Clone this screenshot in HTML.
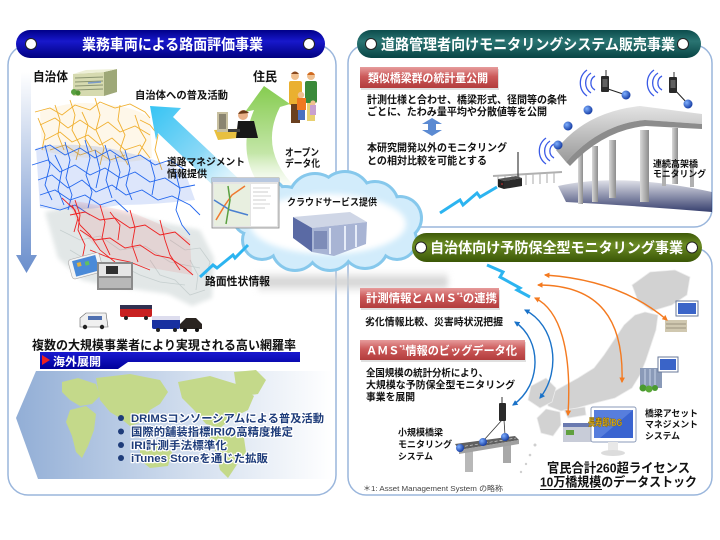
<!DOCTYPE html>
<html><head><meta charset="utf-8"><style>
html,body{margin:0;padding:0;background:#fff;width:720px;height:540px;overflow:hidden}
svg{display:block}
text{font-family:"Liberation Sans","Noto Sans CJK JP",sans-serif;font-weight:bold}
</style></head><body>
<svg width="720" height="540" viewBox="0 0 720 540" xmlns="http://www.w3.org/2000/svg">
<defs>
<linearGradient id="hBlue" x1="0" y1="0" x2="0" y2="1"><stop offset="0" stop-color="#000088"/><stop offset="0.4" stop-color="#1818cc"/><stop offset="1" stop-color="#000080"/></linearGradient>
<linearGradient id="hTeal" x1="0" y1="0" x2="0" y2="1"><stop offset="0" stop-color="#0c4c4c"/><stop offset="0.4" stop-color="#2a7472"/><stop offset="1" stop-color="#084444"/></linearGradient>
<linearGradient id="hOlive" x1="0" y1="0" x2="0" y2="1"><stop offset="0" stop-color="#3e5a08"/><stop offset="0.4" stop-color="#6a8a24"/><stop offset="1" stop-color="#3a5606"/></linearGradient>
<linearGradient id="red" x1="0" y1="0" x2="0" y2="1"><stop offset="0" stop-color="#e69c9c"/><stop offset="0.45" stop-color="#cc5a5a"/><stop offset="1" stop-color="#b23c3c"/></linearGradient>
<linearGradient id="vArrow" x1="0" y1="0" x2="0" y2="1"><stop offset="0" stop-color="#ffffff"/><stop offset="1" stop-color="#6a8ecc"/></linearGradient>
<linearGradient id="bArrow" x1="0" y1="0" x2="1" y2="1"><stop offset="0" stop-color="#36c4f4"/><stop offset="0.45" stop-color="#8ad8f6"/><stop offset="1" stop-color="#ffffff" stop-opacity="0"/></linearGradient>
<linearGradient id="gArrow" x1="0" y1="0" x2="0" y2="1"><stop offset="0" stop-color="#86cc50"/><stop offset="0.6" stop-color="#c4e6a8"/><stop offset="1" stop-color="#ffffff" stop-opacity="0"/></linearGradient>
<linearGradient id="world" x1="0" y1="0" x2="1" y2="0"><stop offset="0" stop-color="#92aed6"/><stop offset="0.55" stop-color="#d2deee"/><stop offset="1" stop-color="#ffffff"/></linearGradient>
<linearGradient id="kaigai" x1="0" y1="0" x2="0" y2="1"><stop offset="0" stop-color="#1a1ad0"/><stop offset="1" stop-color="#00009a"/></linearGradient>
<linearGradient id="deck" x1="0" y1="0" x2="0" y2="1"><stop offset="0" stop-color="#e4e4e4"/><stop offset="1" stop-color="#9a9a9a"/></linearGradient>
<linearGradient id="pillar" x1="0" y1="0" x2="1" y2="0"><stop offset="0" stop-color="#d8d8d8"/><stop offset="1" stop-color="#8c8c8c"/></linearGradient>
<linearGradient id="shadowG" x1="0" y1="0" x2="0" y2="1"><stop offset="0" stop-color="#2c3566" stop-opacity="0.15"/><stop offset="1" stop-color="#2c3566" stop-opacity="0.95"/></linearGradient>
<radialGradient id="ball" cx="0.35" cy="0.35" r="0.7"><stop offset="0" stop-color="#7fb0ff"/><stop offset="1" stop-color="#1238a0"/></radialGradient>
<linearGradient id="greyband" x1="0" y1="0" x2="0" y2="1"><stop offset="0" stop-color="#d8d8d8" stop-opacity="0"/><stop offset="0.5" stop-color="#cfcfcf"/><stop offset="1" stop-color="#d8d8d8" stop-opacity="0"/></linearGradient>
<filter id="blur3"><feGaussianBlur stdDeviation="3"/></filter>
<filter id="blur2"><feGaussianBlur stdDeviation="2"/></filter>
<marker id="mo" viewBox="0 0 10 10" refX="8" refY="5" markerWidth="4" markerHeight="4" orient="auto-start-reverse"><path d="M0,0 L10,5 L0,10 Z" fill="#f47a20"/></marker>
<marker id="mb" viewBox="0 0 10 10" refX="8" refY="5" markerWidth="4" markerHeight="4" orient="auto-start-reverse"><path d="M0,0 L10,5 L0,10 Z" fill="#1a72c8"/></marker>
</defs>

<!-- PANELS -->
<rect x="8" y="45" width="328" height="450" rx="20" fill="#fff" stroke="#9ab6dc" stroke-width="1.5"/>
<rect x="348" y="45" width="364" height="182" rx="18" fill="#fff" stroke="#9ab6dc" stroke-width="1.5"/>
<rect x="348" y="248" width="364" height="247" rx="18" fill="#fff" stroke="#9ab6dc" stroke-width="1.5"/>

<!-- ============ LEFT PANEL ============ -->
<path d="M21,72 L31,72 L31,255 L37,255 L26.5,273 L16,255 L21,255 Z" fill="url(#vArrow)"/>

<!-- map gray land -->
<path d="M45,212 L80,204 L120,212 L160,222 L200,230 L214,258 L212,298 L192,306 L168,294 L140,290 L110,286 L82,280 L58,258 Z" fill="#e2e7e7" filter="url(#blur2)"/>
<g fill="none" stroke="#c6cfcf" stroke-width="0.8">
<path d="M60,230 L80,240 L100,236 L120,250 L145,246 L170,262 L200,268"/>
<path d="M150,260 L160,275 L175,280 L190,295 L205,290"/>
<path d="M120,265 L140,275 L160,282 L185,285"/>
<path d="M170,240 L185,250 L200,248 L210,262 L205,280"/>
<path d="M70,250 L90,262 L110,270 L125,282"/>
<path d="M190,260 L198,275 L196,290"/>
</g>
<!-- orange routes -->
<path d="M40,112 Q70,100 100,104 Q135,106 150,118 L152,158 Q120,166 90,158 Q60,156 42,150 Z" fill="#f5c86a" opacity="0.15"/>
<g fill="none" stroke="#f0b030" stroke-width="0.9">
<path d="M35,112 L50,108 L62,115 L75,105 L90,110 L100,102 L115,108 L130,104 L145,112 L150,118"/>
<path d="M40,125 L55,118 L68,128 L80,120 L95,130 L108,122 L120,132 L135,126 L150,135"/>
<path d="M45,140 L60,132 L72,142 L88,135 L100,145 L112,138 L125,150 L140,145 L150,158"/>
<path d="M70,100 L75,115 L72,130 L80,145 L76,160"/>
<path d="M95,98 L100,115 L96,130 L104,148 L100,165"/>
<path d="M120,105 L118,120 L125,135 L120,150 L128,165"/>
<path d="M50,150 L65,145 L80,155 L95,150 L110,160 L125,155"/>
<path d="M38,118 L45,135 L42,150"/>
<path d="M135,115 L140,130 L146,140 L138,155"/>
<path d="M55,105 L60,120 L58,135 L64,150"/>
<path d="M82,112 L88,125 L85,138 L92,150"/>
<path d="M140,120 L150,125 L158,135 L155,150 L162,170"/>
</g>
<!-- blue routes -->
<path d="M36,148 Q80,140 125,152 Q160,160 185,172 L195,200 Q150,205 120,205 Q80,212 40,208 Z" fill="#2a66e8" opacity="0.16"/>
<g fill="none" stroke="#2266ee" stroke-width="0.9">
<path d="M35,150 L50,145 L65,155 L80,148 L95,158 L110,150 L125,160 L140,155 L155,165 L170,160 L185,170"/>
<path d="M32,165 L48,160 L60,172 L75,165 L90,175 L105,168 L120,178 L135,172 L150,182 L165,178 L180,188 L195,185"/>
<path d="M38,180 L52,175 L68,188 L82,180 L96,192 L112,185 L126,195 L142,190 L158,200 L172,196 L190,205 L200,215"/>
<path d="M40,195 L55,190 L70,200 L85,195 L100,205 L115,200 L128,212"/>
<path d="M45,145 L50,165 L45,185 L52,200"/>
<path d="M65,142 L70,160 L66,178 L72,195 L68,210"/>
<path d="M85,140 L90,158 L86,175 L92,192 L88,208"/>
<path d="M105,145 L110,162 L106,180 L112,198"/>
<path d="M125,150 L130,168 L126,185 L132,200"/>
<path d="M150,160 L155,178 L152,195"/>
<path d="M175,170 L180,190 L176,210 L182,225 L190,235"/>
<path d="M40,205 L60,210 L75,205 L90,215"/>
<path d="M55,155 L62,170 L58,190 L64,205"/>
<path d="M95,150 L100,170 L96,188"/>
<path d="M115,155 L120,172 L116,190"/>
</g>
<!-- red routes -->
<path d="M68,200 Q100,205 130,212 Q165,225 190,240 L192,275 Q150,268 120,262 Q95,248 80,230 Z" fill="#ee3030" opacity="0.1"/>
<g fill="none" stroke="#ee2222" stroke-width="0.9">
<path d="M62,198 L75,210 L80,225 L90,235 L100,250 L115,262"/>
<path d="M70,215 L85,212 L100,220 L115,218 L130,228 L145,225 L160,235 L175,232 L190,245"/>
<path d="M80,230 L95,240 L110,238 L125,248 L140,245 L155,255 L170,258 L185,268 L193,275"/>
<path d="M75,200 L80,215 L78,230 L85,245 L82,260"/>
<path d="M100,205 L105,222 L102,238 L110,255"/>
<path d="M130,210 L135,228 L132,245 L138,262"/>
<path d="M160,220 L165,240 L170,255 L180,270"/>
<path d="M90,250 L110,258 L130,262 L150,270"/>
<path d="M72,205 L78,218 L74,232"/>
<path d="M110,212 L120,225 L118,240"/>
</g>

<!-- big light blue arrow -->
<path d="M150,106 L181,108 L173,117 L258,197 L242,213 L158,133 L156,140 Z" fill="url(#bArrow)"/>

<!-- green curved arrow -->
<path d="M296,188 Q258,150 280,107 L290,104 L264,86 L245,112 L254,110 Q233,160 270,198 Z" fill="url(#gArrow)"/>

<!-- building icon -->
<g>
<polygon points="73,74 104,72 104,96 73,96" fill="#d6dab0"/>
<polygon points="104,72 117,69 117,92 104,96" fill="#9ea878"/>
<polygon points="73,74 104,72 117,69 86,70" fill="#eef0d8"/>
<g stroke="#8a9470" stroke-width="1"><line x1="75" y1="78" x2="103" y2="77"/><line x1="75" y1="82" x2="103" y2="81"/><line x1="75" y1="86" x2="103" y2="85"/><line x1="75" y1="90" x2="103" y2="89"/></g>
<line x1="88" y1="83" x2="101" y2="82" stroke="#7a9ac8" stroke-width="1.5"/>
<circle cx="74" cy="92" r="3" fill="#5aa040"/><circle cx="78" cy="93" r="2.5" fill="#4a9030"/>
</g>

<!-- people -->
<g>
<circle cx="295" cy="76" r="4" fill="#f0c090"/><path d="M291,74 Q295,69 299,74 Z" fill="#8a4a20"/>
<rect x="289" y="81" width="13" height="24" rx="2" fill="#eab030"/>
<rect x="291" y="104" width="9" height="19" fill="#6a4020"/>
<circle cx="311" cy="76" r="4" fill="#f0c090"/><path d="M307,75 Q311,69 315,75 Z" fill="#d06a20"/>
<rect x="305" y="81" width="12" height="22" rx="2" fill="#3a8a3a"/>
<rect x="307" y="103" width="8" height="18" fill="#e8d070"/>
<circle cx="301" cy="95" r="3.2" fill="#f0c090"/>
<rect x="297" y="98" width="9" height="12" fill="#f07820"/>
<rect x="298" y="110" width="7" height="10" fill="#4a70c0"/>
<circle cx="313" cy="103" r="2.6" fill="#f0c090"/>
<rect x="310" y="105" width="6" height="10" fill="#c8a0d0"/>
</g>

<!-- person at computer -->
<g>
<polygon points="214,130 252,128 258,136 218,140" fill="#e8c040"/>
<rect x="217" y="112" width="11" height="20" fill="#c8c0a0"/>
<rect x="219" y="114" width="7" height="15" fill="#8a8470"/>
<circle cx="243" cy="115" r="5" fill="#e8b088"/><path d="M238,114 Q243,107 249,113 Z" fill="#6a3a18"/>
<path d="M238,121 L254,121 L258,138 L236,138 Z" fill="#181818"/>
<rect x="228" y="129" width="12" height="3" fill="#404040"/>
</g>

<!-- grey shadow band under cloud -->
<rect x="258" y="270" width="190" height="24" fill="url(#greyband)" filter="url(#blur3)"/>

<!-- cloud -->
<g fill="#86c8ec">
<circle cx="262" cy="240" r="21"/><circle cx="285" cy="213" r="28"/><circle cx="315" cy="200" r="28"/><circle cx="345" cy="198" r="28"/><circle cx="375" cy="205" r="25"/><circle cx="400" cy="218" r="23"/><circle cx="397" cy="240" r="21"/><circle cx="365" cy="245" r="25"/><circle cx="330" cy="247" r="25"/><circle cx="295" cy="247" r="25"/><circle cx="250" cy="218" r="18"/><circle cx="270" cy="196" r="17"/>
</g>
<g fill="#d2ecfb">
<circle cx="262" cy="240" r="18"/><circle cx="285" cy="213" r="25"/><circle cx="315" cy="200" r="25"/><circle cx="345" cy="198" r="25"/><circle cx="375" cy="205" r="22"/><circle cx="400" cy="218" r="20"/><circle cx="397" cy="240" r="18"/><circle cx="365" cy="245" r="22"/><circle cx="330" cy="247" r="22"/><circle cx="295" cy="247" r="22"/><circle cx="250" cy="218" r="15"/><circle cx="270" cy="196" r="14"/>
</g>
<ellipse cx="328" cy="224" rx="78" ry="30" fill="#ffffff" filter="url(#blur3)"/>

<!-- screenshot window -->
<g>
<rect x="212" y="178" width="67" height="50" fill="#e4e4e4" stroke="#888" stroke-width="0.8"/>
<rect x="212" y="178" width="67" height="4" fill="#b8c8e0"/>
<rect x="214" y="184" width="36" height="42" fill="#e8efe0"/>
<rect x="251" y="184" width="26" height="42" fill="#ffffff"/>
<g fill="none" stroke-width="1.5"><path d="M216,220 L225,205 L232,195 L245,186" stroke="#f07830"/><path d="M214,200 L230,210 L248,215" stroke="#4a80d0"/><path d="M228,186 L230,200 L226,224" stroke="#5aa040"/></g>
<g stroke="#aaa" stroke-width="0.6"><line x1="253" y1="188" x2="270" y2="188"/><line x1="253" y1="192" x2="268" y2="192"/><line x1="253" y1="196" x2="271" y2="196"/><line x1="253" y1="200" x2="266" y2="200"/><line x1="253" y1="204" x2="270" y2="204"/><line x1="253" y1="208" x2="265" y2="208"/></g>
</g>

<!-- server box -->
<g>
<polygon points="293,217 350,212 367,222 312,228" fill="#cfd6e6"/>
<polygon points="293,217 312,228 312,252 293,238" fill="#5a6aa4"/>
<polygon points="312,228 367,222 366,244 334,256 312,252" fill="#a8b4d4"/>
<g stroke="#e6ecf8" stroke-width="2"><line x1="330" y1="228" x2="330" y2="254"/><line x1="345" y1="226" x2="345" y2="250"/><line x1="356" y1="225" x2="356" y2="247"/></g>
<rect x="314" y="231" width="13" height="18" fill="#7e8cb8"/>
</g>

<!-- lightning bolts -->
<polyline points="200,277 213,265 217,268 233,255 235,258 248,245" fill="none" stroke="#2cb4f0" stroke-width="3" stroke-linejoin="miter"/>
<polyline points="440,213 460,200 463,205 477,193 480,197 497,187" fill="none" stroke="#2cb4f0" stroke-width="3"/>
<polyline points="487,265 503,272 500,277 520,288 517,290 530,297" fill="none" stroke="#2cb4f0" stroke-width="3"/>

<!-- phone & dashcam -->
<g>
<g transform="rotate(-15 85 267)"><rect x="70" y="256" width="32" height="20" rx="3" fill="#f4f4f4" stroke="#aaa" stroke-width="0.6"/><rect x="74" y="258" width="24" height="16" fill="#4a8ad8"/><rect x="78" y="261" width="4" height="4" fill="#e0b040"/><rect x="86" y="262" width="4" height="4" fill="#60c060"/></g>
<rect x="97" y="262" width="36" height="28" fill="#8a8a8a"/>
<rect x="99" y="264" width="32" height="12" fill="#e6e6e6"/>
<rect x="106" y="266" width="12" height="8" fill="#303030"/>
<rect x="99" y="278" width="32" height="10" fill="#b8b8b8"/>
</g>

<!-- vehicles -->
<g>
<path d="M80,327 L80,318 L86,313 L106,313 L108,327 Z" fill="#f0f0f0" stroke="#666" stroke-width="0.6"/><rect x="88" y="316" width="14" height="4" fill="#5070b0"/><circle cx="85" cy="327" r="2.2" fill="#222"/><circle cx="102" cy="327" r="2.2" fill="#222"/>
<rect x="120" y="305" width="32" height="12" rx="2" fill="#c82020"/><rect x="120" y="305" width="32" height="4" fill="#303050"/><circle cx="126" cy="318" r="2" fill="#222"/><circle cx="146" cy="318" r="2" fill="#222"/>
<rect x="152" y="316" width="28" height="13" rx="2" fill="#1830a0"/><rect x="152" y="316" width="28" height="4" fill="#dde"/><circle cx="158" cy="330" r="2" fill="#222"/><circle cx="175" cy="330" r="2" fill="#222"/>
<path d="M180,329 L180,324 L186,318 L196,318 L202,324 L202,329 Z" fill="#2a2420"/><circle cx="185" cy="330" r="2" fill="#111"/><circle cx="197" cy="330" r="2" fill="#111"/>
</g>

<!-- world map region -->
<path d="M36,371 L332,371 L332,479 L38,479 L16,418 Z" fill="url(#world)"/>
<g fill="#c4d98a">
<path d="M62,382 L78,378 L96,384 L100,396 L92,404 L80,406 L70,400 L62,392 Z"/>
<path d="M70,410 L86,406 L96,414 L94,430 L88,446 L82,458 L76,452 L72,436 L66,422 Z"/>
<path d="M96,378 L130,374 L160,380 L168,392 L160,404 L150,410 L142,422 L130,426 L120,418 L110,412 L100,400 Z"/>
<path d="M140,448 L160,444 L172,452 L168,466 L150,468 L140,460 Z"/>
<path d="M178,382 L210,376 L236,384 L254,396 L248,410 L232,418 L220,428 L206,424 L194,410 L182,398 Z"/>
<path d="M234,372 L256,370 L266,380 L258,394 L244,396 L236,386 Z"/>
<path d="M210,430 L228,428 L244,438 L246,452 L236,466 L228,478 L220,470 L216,452 L208,440 Z"/>
</g>

<!-- 海外展開 bar -->
<path d="M40,352 L300,352 L300,362 L128,362 L118,369 L40,369 Z" fill="url(#kaigai)"/>
<polygon points="42,355 50,360 42,365" fill="#ee2020"/>
<text x="53" y="365.5" font-size="11.5" fill="#fff" textLength="48" lengthAdjust="spacingAndGlyphs">海外展開</text>

<!-- bullets -->
<g fill="#1e3c7a">
<circle cx="121" cy="418" r="3"/><circle cx="121" cy="431.5" r="3"/><circle cx="121" cy="445" r="3"/><circle cx="121" cy="458" r="3"/>
</g>
<g font-size="11" fill="#1e3c7a" stroke="#ffffff" stroke-width="2.5" paint-order="stroke" stroke-linejoin="round">
<text x="131" y="422" textLength="193" lengthAdjust="spacingAndGlyphs">DRIMSコンソーシアムによる普及活動</text>
<text x="131" y="435.5" textLength="162" lengthAdjust="spacingAndGlyphs">国際的舗装指標IRIの高精度推定</text>
<text x="131" y="449" textLength="96" lengthAdjust="spacingAndGlyphs">IRI計測手法標準化</text>
<text x="131" y="462" textLength="137" lengthAdjust="spacingAndGlyphs">iTunes Storeを通じた拡販</text>
</g>

<!-- left texts -->
<g fill="#111">
<text x="33" y="81" font-size="12.5" textLength="35" lengthAdjust="spacingAndGlyphs">自治体</text>
<text x="253" y="81" font-size="12.5" textLength="24" lengthAdjust="spacingAndGlyphs">住民</text>
<text x="135" y="98.5" font-size="10.5" textLength="93" lengthAdjust="spacingAndGlyphs">自治体への普及活動</text>
<text x="167" y="165.5" font-size="10" textLength="78" lengthAdjust="spacingAndGlyphs">道路マネジメント</text>
<text x="167" y="177.5" font-size="10" textLength="40" lengthAdjust="spacingAndGlyphs">情報提供</text>
<text x="285" y="156" font-size="10" textLength="34" lengthAdjust="spacingAndGlyphs">オープン</text>
<text x="285" y="167" font-size="10" textLength="35" lengthAdjust="spacingAndGlyphs">データ化</text>
<text x="287" y="205.5" font-size="9.5" textLength="90" lengthAdjust="spacingAndGlyphs">クラウドサービス提供</text>
<text x="205" y="285" font-size="11" textLength="65" lengthAdjust="spacingAndGlyphs">路面性状情報</text>
<text x="32" y="349.5" font-size="12.5" textLength="264" lengthAdjust="spacingAndGlyphs">複数の大規模事業者により実現される高い網羅率</text>
</g>

<!-- ============ RIGHT TOP ============ -->
<path d="M558,186 Q620,172 712,192 L712,212 Q640,206 566,202 Z" fill="url(#shadowG)"/>
<line x1="493" y1="176" x2="562" y2="172" stroke="#b0b0b0" stroke-width="2"/>
<g stroke="#b8b8b8" stroke-width="1.2"><line x1="498" y1="176" x2="498" y2="186"/><line x1="505" y1="176" x2="505" y2="186"/><line x1="512" y1="175" x2="512" y2="185"/><line x1="519" y1="175" x2="519" y2="185"/><line x1="526" y1="175" x2="526" y2="185"/><line x1="533" y1="174" x2="533" y2="184"/><line x1="540" y1="174" x2="540" y2="184"/><line x1="547" y1="173" x2="547" y2="183"/><line x1="554" y1="173" x2="554" y2="183"/></g>
<rect x="662" y="160" width="4" height="26" fill="#b0b0b0"/>
<rect x="690" y="165" width="4" height="22" fill="#b0b0b0"/>
<rect x="578" y="152" width="5" height="52" fill="url(#pillar)"/>
<rect x="592" y="146" width="6" height="56" fill="url(#pillar)"/>
<rect x="609" y="140" width="7" height="58" fill="url(#pillar)"/>
<rect x="640" y="130" width="9" height="72" fill="url(#pillar)"/>
<rect x="672" y="128" width="6" height="56" fill="url(#pillar)"/>
<path d="M556,150 Q585,112 640,106 L702,114 L702,124 L645,120 Q600,124 566,162 Z" fill="url(#deck)"/>
<path d="M566,162 Q600,124 645,120 L702,124 L702,129 L646,126 Q604,130 570,166 Z" fill="#8c8c8c"/>
<line x1="518" y1="178" x2="518" y2="152" stroke="#404040" stroke-width="1.2"/>
<polygon points="498,179 516,176 522,178 504,181" fill="#555"/>
<polygon points="498,179 504,181 504,189 498,187" fill="#222"/>
<polygon points="504,181 522,178 522,186 504,189" fill="#2a2a2a"/>
<circle cx="502" cy="184" r="0.8" fill="#e03030"/>
<line x1="605" y1="88" x2="626" y2="95" stroke="#222" stroke-width="1"/>
<line x1="673" y1="88" x2="688" y2="104" stroke="#222" stroke-width="1"/>
<rect x="601" y="76" width="8" height="16" rx="1" fill="#2a2a2a"/><rect x="602.5" y="79" width="5" height="8" fill="#606060"/><line x1="606" y1="76" x2="606" y2="70" stroke="#333" stroke-width="1"/>
<rect x="669" y="77" width="8" height="16" rx="1" fill="#2a2a2a"/><rect x="670.5" y="80" width="5" height="8" fill="#606060"/><line x1="674" y1="77" x2="674" y2="72" stroke="#333" stroke-width="1"/>
<g fill="none" stroke="#3a5ae6" stroke-width="1.3">
<path d="M595,76 A8,8 0 0 0 595,90"/><path d="M591,73 A12,12 0 0 0 591,93"/><path d="M587,70 A16,16 0 0 0 587,96"/>
<path d="M662,76 A8,8 0 0 0 662,90"/><path d="M658,73 A12,12 0 0 0 658,93"/><path d="M654,70 A16,16 0 0 0 654,96"/>
<path d="M554,144 A8,8 0 0 0 554,158"/><path d="M550,141 A12,12 0 0 0 550,161"/><path d="M546,138 A16,16 0 0 0 546,164"/>
</g>
<circle cx="626" cy="95" r="4.5" fill="url(#ball)"/>
<circle cx="688" cy="104" r="4.5" fill="url(#ball)"/>
<circle cx="588" cy="110" r="4.5" fill="url(#ball)"/>
<circle cx="568" cy="126" r="4.5" fill="url(#ball)"/>
<circle cx="558" cy="145" r="4.5" fill="url(#ball)"/>

<rect x="361" y="69" width="138" height="21" fill="#cccccc" opacity="0.6"/>
<rect x="360" y="67" width="138" height="21" fill="url(#red)"/>
<text x="368" y="82" font-size="11.5" fill="#fff" textLength="120" lengthAdjust="spacingAndGlyphs">類似橋梁群の統計量公開</text>

<g fill="#111">
<text x="367" y="103" font-size="10.5" textLength="200" lengthAdjust="spacingAndGlyphs">計測仕様と合わせ、橋梁形式、径間等の条件</text>
<text x="367" y="115" font-size="10.5" textLength="180" lengthAdjust="spacingAndGlyphs">ごとに、たわみ量平均や分散値等を公開</text>
<text x="367" y="151" font-size="10.5" textLength="140" lengthAdjust="spacingAndGlyphs">本研究開発以外のモニタリング</text>
<text x="367" y="164" font-size="10.5" textLength="120" lengthAdjust="spacingAndGlyphs">との相対比較を可能とする</text>
<text x="653" y="167" font-size="9" textLength="45" lengthAdjust="spacingAndGlyphs">連続高架橋</text>
<text x="653" y="177" font-size="9" textLength="53" lengthAdjust="spacingAndGlyphs">モニタリング</text>
</g>
<path d="M432,118 L442,124 L436,124 L436,130 L442,130 L432,136 L422,130 L428,130 L428,124 L422,124 Z" fill="#5b8ad2"/>

<!-- ============ RIGHT BOTTOM ============ -->
<!-- Japan map -->
<g fill="#d2d2d2" stroke="#ececec" stroke-width="0.8">
<path d="M632,285 L650,272 L675,270 L690,277 L687,295 L672,305 L652,311 L638,301 Z"/>
<path d="M645,312 L658,315 L656,330 L651,345 L646,360 L640,375 L632,388 L615,398 L595,403 L577,408 L561,411 L548,406 L546,396 L560,388 L578,378 L594,368 L604,355 L614,340 L624,325 L635,315 Z"/>
<path d="M531,386 L546,378 L556,388 L552,402 L540,408 L528,400 Z"/>
<path d="M546,409 L560,412 L561,425 L553,436 L541,433 L537,418 Z"/>
<path d="M564,410 L585,407 L586,415 L568,418 Z"/>
</g>
<g fill="#cfcfcf"><circle cx="535" cy="445" r="1.5"/><circle cx="530" cy="455" r="1.3"/><circle cx="526" cy="464" r="1.2"/><circle cx="521" cy="472" r="1.2"/></g>

<g>
<rect x="665" y="320" width="22" height="12" fill="#d0c8b0"/><g stroke="#8a8470" stroke-width="0.8"><line x1="666" y1="324" x2="686" y2="324"/><line x1="666" y1="328" x2="686" y2="328"/></g>
<rect x="676" y="301" width="22" height="15" fill="#fff" stroke="#6a7a9a" stroke-width="1"/><rect x="678" y="303" width="18" height="11" fill="#3a64c8"/>
<rect x="640" y="368" width="22" height="20" fill="#8a9ab8"/><g stroke="#c8d4e8" stroke-width="1"><line x1="645" y1="369" x2="645" y2="387"/><line x1="650" y1="369" x2="650" y2="387"/><line x1="655" y1="369" x2="655" y2="387"/></g>
<circle cx="643" cy="388" r="3.5" fill="#4a9a30"/><circle cx="649" cy="389" r="3.5" fill="#5aa838"/><circle cx="655" cy="388" r="3" fill="#4a9a30"/>
<rect x="658" y="357" width="20" height="15" fill="#fff" stroke="#6a7a9a" stroke-width="1"/><rect x="660" y="359" width="16" height="11" fill="#3a64c8"/>
<rect x="563" y="423" width="28" height="19" fill="#c8ccd8"/><rect x="563" y="423" width="28" height="4" fill="#6a7ab0"/><rect x="566" y="430" width="8" height="5" fill="#60a040"/>
<rect x="591" y="407" width="45" height="35" rx="2" fill="#fff" stroke="#8a9ab8" stroke-width="1"/>
<rect x="594" y="410" width="39" height="28" fill="#3a64d0"/>
<path d="M594,410 L633,410 L600,438 L594,438 Z" fill="#6a90e6" opacity="0.6"/>
<rect x="608" y="442" width="10" height="10" fill="#e8e8e8"/><ellipse cx="613" cy="453" rx="12" ry="3" fill="#dcdcdc"/>
<text x="588" y="426" font-size="10" fill="#e8b818" stroke="#7a5a00" stroke-width="0.4" textLength="34" lengthAdjust="spacingAndGlyphs">長寿郎/BG</text>
</g>

<!-- small bridge -->
<g>
<rect x="465" y="450" width="8" height="22" fill="#b8b8b8"/>
<rect x="503" y="443" width="8" height="20" fill="#a8a8a8"/>
<polygon points="455,444 515,436 519,440 459,450" fill="#606060"/>
<polygon points="459,450 519,440 519,444 459,454" fill="#a0a0a0"/>
<line x1="460" y1="447" x2="516" y2="438" stroke="#ddd" stroke-width="0.6" stroke-dasharray="3,2"/>
<line x1="502" y1="420" x2="484" y2="440" stroke="#333" stroke-width="0.8"/>
<line x1="504" y1="420" x2="505" y2="435" stroke="#333" stroke-width="0.8"/>
<circle cx="460" cy="448" r="4" fill="url(#ball)"/>
<circle cx="483" cy="442" r="4" fill="url(#ball)"/>
<circle cx="505" cy="437" r="4" fill="url(#ball)"/>
<rect x="499" y="403" width="7" height="18" rx="1" fill="#2a2a2a"/><line x1="502" y1="403" x2="502" y2="397" stroke="#333" stroke-width="1"/>
</g>

<!-- arcs -->
<g fill="none" stroke-width="1.4">
<path d="M545,275 Q620,280 667,320" stroke="#f47a20" marker-start="url(#mo)" marker-end="url(#mo)"/>
<path d="M538,285 C600,285 624,320 622,382" stroke="#f47a20" marker-start="url(#mo)" marker-end="url(#mo)"/>
<path d="M535,298 C560,310 572,350 568,415" stroke="#f47a20" marker-start="url(#mo)" marker-end="url(#mo)"/>
<path d="M525,310 C555,325 562,370 540,398" stroke="#1a72c8" marker-start="url(#mb)" marker-end="url(#mb)"/>
<path d="M515,322 C542,340 542,385 513,405" stroke="#1a72c8" marker-start="url(#mb)" marker-end="url(#mb)"/>
</g>

<rect x="361" y="290" width="139" height="20" fill="#cccccc" opacity="0.6"/>
<rect x="360" y="288" width="139" height="20" fill="url(#red)"/>
<text x="366" y="302" font-size="11.5" fill="#fff" textLength="131" lengthAdjust="spacingAndGlyphs">計測情報とＡＭＳ<tspan font-size="6.5" dy="-5">*1</tspan><tspan dy="5">の連携</tspan></text>
<rect x="361" y="342" width="165" height="20" fill="#cccccc" opacity="0.6"/>
<rect x="360" y="340" width="165" height="20" fill="url(#red)"/>
<text x="366" y="354.5" font-size="11.5" fill="#fff" textLength="151" lengthAdjust="spacingAndGlyphs">ＡＭＳ<tspan font-size="6.5" dy="-5">*1</tspan><tspan dy="5">情報のビッグデータ化</tspan></text>

<g fill="#111">
<text x="365" y="325.5" font-size="10" textLength="138" lengthAdjust="spacingAndGlyphs">劣化情報比較、災害時状況把握</text>
<text x="366" y="376.5" font-size="10" textLength="122" lengthAdjust="spacingAndGlyphs">全国規模の統計分析により、</text>
<text x="366" y="388.5" font-size="10" textLength="149" lengthAdjust="spacingAndGlyphs">大規模な予防保全型モニタリング</text>
<text x="366" y="400.5" font-size="10" textLength="49" lengthAdjust="spacingAndGlyphs">事業を展開</text>
<text x="398" y="435.5" font-size="9" textLength="45" lengthAdjust="spacingAndGlyphs">小規模橋梁</text>
<text x="398" y="447.5" font-size="9" textLength="54" lengthAdjust="spacingAndGlyphs">モニタリング</text>
<text x="398" y="459.5" font-size="9" textLength="35" lengthAdjust="spacingAndGlyphs">システム</text>
<text x="645" y="416.5" font-size="9" textLength="53" lengthAdjust="spacingAndGlyphs">橋梁アセット</text>
<text x="645" y="427.5" font-size="9" textLength="53" lengthAdjust="spacingAndGlyphs">マネジメント</text>
<text x="645" y="439" font-size="9" textLength="35" lengthAdjust="spacingAndGlyphs">システム</text>
<text x="547" y="472.5" font-size="13" textLength="143" lengthAdjust="spacingAndGlyphs">官民合計260超ライセンス</text>
<text x="540" y="486.5" font-size="13" textLength="157" lengthAdjust="spacingAndGlyphs">10万橋規模のデータストック</text>
</g>
<line x1="540" y1="489.5" x2="602" y2="489.5" stroke="#111" stroke-width="1"/>
<text x="363" y="491" font-size="7.5" style="font-weight:normal" fill="#444" textLength="140" lengthAdjust="spacingAndGlyphs">＊1: Asset Management System の略称</text>

<!-- ============ HEADERS ============ -->
<rect x="16" y="30" width="309" height="28" rx="14" fill="url(#hBlue)"/>
<circle cx="31" cy="44" r="5.5" fill="#fff" stroke="#222" stroke-width="1"/>
<circle cx="309" cy="44" r="5.5" fill="#fff" stroke="#222" stroke-width="1"/>
<text x="82" y="49.5" font-size="15" fill="#fff" textLength="181" lengthAdjust="spacingAndGlyphs">業務車両による路面評価事業</text>

<rect x="357" y="30" width="344" height="28" rx="14" fill="url(#hTeal)"/>
<circle cx="371" cy="44" r="5.5" fill="#fff" stroke="#222" stroke-width="1"/>
<circle cx="683" cy="44" r="5.5" fill="#fff" stroke="#222" stroke-width="1"/>
<text x="381" y="49.5" font-size="15" fill="#fff" textLength="294" lengthAdjust="spacingAndGlyphs">道路管理者向けモニタリングシステム販売事業</text>

<rect x="412" y="233" width="290" height="29" rx="14.5" fill="url(#hOlive)"/>
<circle cx="421" cy="247.5" r="5.5" fill="#fff" stroke="#222" stroke-width="1"/>
<circle cx="692" cy="247.5" r="5.5" fill="#fff" stroke="#222" stroke-width="1"/>
<text x="430" y="253" font-size="14.5" fill="#fff" textLength="253" lengthAdjust="spacingAndGlyphs">自治体向け予防保全型モニタリング事業</text>
</svg>
</body></html>
